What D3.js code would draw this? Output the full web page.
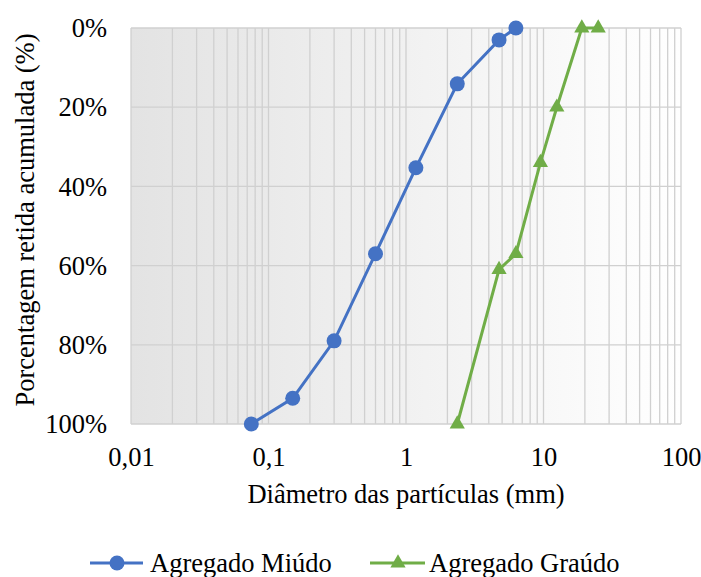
<!DOCTYPE html>
<html><head><meta charset="utf-8">
<script src="https://cdn.jsdelivr.net/npm/d3@7"></script>
<style>body{margin:0;background:#fff}</style>
</head><body><svg id="c" width="701" height="577"></svg>
<script>
const sieves = [0.075, 0.15, 0.3, 0.6, 1.18, 2.36, 4.75, 6.3];
const miudo = [100, 93.5, 79, 57, 35.3, 14.1, 3, 0];
const sievesG = [2.36, 4.75, 6.3, 9.5, 12.5, 19, 25];
const graudo = [100, 61, 57, 34, 20, 0, 0];
const yTicks = [0, 20, 40, 60, 80, 100];
const xTicks = [0.01, 0.1, 1, 10, 100];
const xTickLabels = ["0,01", "0,1", "1", "10", "100"];
const seriesNames = ["Agregado Miúdo", "Agregado Graúdo"];
const colors = ["#4472C4", "#70AD47"];

const FONT = "Liberation Serif, Tinos, Times New Roman, Times, serif";
const FS = "26.5px";
const svg = d3.select("#c");
const L = 131, R = 681, T = 28, B = 424;
const x = d3.scaleLog().domain([0.01, 100]).range([L, R]);
const y = d3.scaleLinear().domain([0, 100]).range([T, B]);

const defs = svg.append("defs");
const g = defs.append("linearGradient").attr("id", "bg").attr("x1", "0").attr("x2", "1").attr("y1", "0").attr("y2", "0");
g.append("stop").attr("offset", "0").attr("stop-color", "#e3e3e3");
g.append("stop").attr("offset", "1").attr("stop-color", "#ffffff");
svg.append("rect").attr("x", L).attr("y", T).attr("width", R - L).attr("height", B - T).attr("fill", "url(#bg)");

const vgrid = [];
for (let e = -2; e < 2; e++) for (let m = 1; m < 10; m++) vgrid.push(m * Math.pow(10, e));
vgrid.push(100);
svg.append("g").selectAll("line").data(vgrid).join("line")
  .attr("x1", d => x(d)).attr("x2", d => x(d)).attr("y1", T).attr("y2", B)
  .attr("stroke", "#d0d0d0").attr("stroke-width", 1.3);
svg.append("g").selectAll("line").data(yTicks).join("line")
  .attr("x1", L).attr("x2", R).attr("y1", d => y(d)).attr("y2", d => y(d))
  .attr("stroke", "#d0d0d0").attr("stroke-width", 1.3);

const yAxis = d3.axisLeft(y).tickValues(yTicks).tickFormat(d => d + "%").tickSize(0).tickPadding(24);
const ya = svg.append("g").attr("transform", `translate(${L},0)`).call(yAxis);
ya.select(".domain").remove();
ya.attr("font-family", null).attr("font-size", null);
ya.selectAll("text").style("font-family", FONT).style("font-size", FS).attr("fill", "#000").attr("dy", "0.33em");
const xAxis = d3.axisBottom(x).tickValues(xTicks).tickFormat((d, i) => xTickLabels[i]).tickSize(0).tickPadding(24);
const xa = svg.append("g").attr("transform", `translate(0,${B})`).call(xAxis);
xa.select(".domain").remove();
xa.attr("font-family", null).attr("font-size", null);
xa.selectAll("text").style("font-family", FONT).style("font-size", FS).attr("fill", "#000").attr("dy", "0.71em").attr("y", 23);

function label(sel) { return sel.style("font-family", FONT).style("font-size", FS).attr("fill", "#000"); }
label(svg.append("text")).attr("x", (L + R) / 2).attr("y", 503).attr("text-anchor", "middle")
  .text("Diâmetro das partículas (mm)");
label(svg.append("text")).attr("transform", `translate(34,220) rotate(-90)`).attr("text-anchor", "middle")
  .text("Porcentagem retida acumulada (%)");

const line = d3.line().x(d => x(d[0])).y(d => y(d[1]));
const d1 = sieves.map((s, i) => [s, miudo[i]]);
const d2 = sievesG.map((s, i) => [s, graudo[i]]);
svg.append("path").datum(d1).attr("d", line).attr("fill", "none").attr("stroke", colors[0]).attr("stroke-width", 3);
svg.append("path").datum(d2).attr("d", line).attr("fill", "none").attr("stroke", colors[1]).attr("stroke-width", 3);
svg.append("g").selectAll("circle").data(d1).join("circle")
  .attr("cx", d => x(d[0])).attr("cy", d => y(d[1])).attr("r", 7.5).attr("fill", colors[0]);
const tri = d3.symbol().type(d3.symbolTriangle).size(100);
svg.append("g").selectAll("path").data(d2).join("path")
  .attr("transform", d => `translate(${x(d[0])},${y(d[1])})`).attr("d", tri).attr("fill", colors[1]);

const lg = svg.append("g");
const ly = 563;
lg.append("line").attr("x1", 90).attr("x2", 143).attr("y1", ly).attr("y2", ly).attr("stroke", colors[0]).attr("stroke-width", 3);
lg.append("circle").attr("cx", 117).attr("cy", ly).attr("r", 7.5).attr("fill", colors[0]);
label(lg.append("text")).attr("x", 150).attr("y", ly + 9).text(seriesNames[0]);
lg.append("line").attr("x1", 370).attr("x2", 425).attr("y1", ly).attr("y2", ly).attr("stroke", colors[1]).attr("stroke-width", 3);
lg.append("path").attr("transform", `translate(398,${ly})`).attr("d", tri).attr("fill", colors[1]);
label(lg.append("text")).attr("x", 429).attr("y", ly + 9).text(seriesNames[1]);
</script></body></html>
